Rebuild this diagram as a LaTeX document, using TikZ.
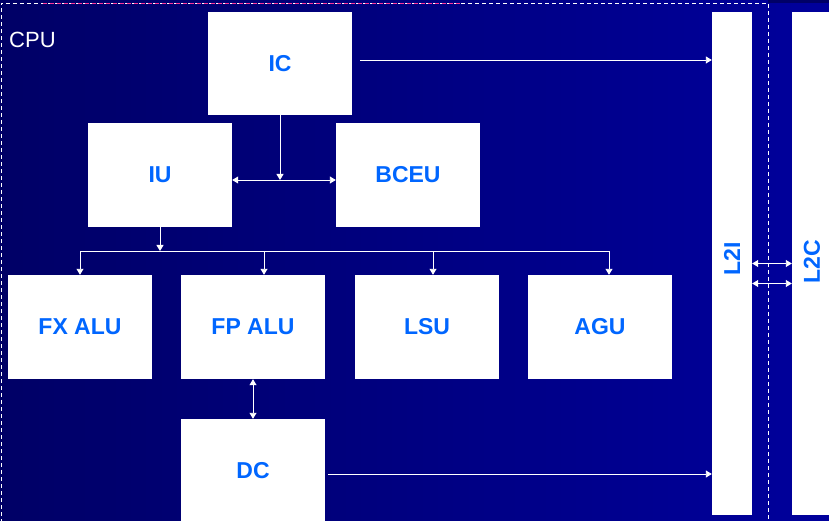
\documentclass[tikz,border=0pt]{standalone}
\usepackage{fontspec}
\setmainfont{Liberation Sans}
\usetikzlibrary{arrows.meta}
\definecolor{bgleft}{RGB}{0,0,102}
\definecolor{bgright}{RGB}{0,0,156}
\definecolor{txtblue}{RGB}{0,102,255}
\definecolor{pinkline}{RGB}{255,51,153}
\tikzset{
  blk/.style={fill=white, draw=none, inner sep=0pt, minimum width=144pt, minimum height=104pt,
    text=txtblue, font=\fontsize{23}{23}\selectfont\bfseries},
  tall/.style={fill=white, draw=none, inner sep=0pt, minimum width=40pt, minimum height=503pt,
    text=txtblue, font=\fontsize{23}{23}\selectfont\bfseries},
  conn/.style={draw=white, line width=0.9pt},
  arr/.style={conn, -{Triangle[width=7pt,length=6pt]}},
  dbl/.style={conn, {Triangle[width=7pt,length=6pt]}-{Triangle[width=7pt,length=6pt]}},
  cpuframe/.style={draw=white, line width=0.8pt, dash pattern=on 4pt off 3pt}
}
\begin{document}
\begin{tikzpicture}[x=1pt,y=-1pt]
\useasboundingbox (0,0) rectangle (829,521);
\shade[left color=bgleft, right color=bgright] (0,0) rectangle (829,521);
\fill[bgleft] (768,0) rectangle (829,3);
% CPU frame
\draw[cpuframe] (1,530) -- (1,3) -- (768,3) -- (768,530);
\draw[draw=pinkline, line width=0.8pt, dash pattern=on 4pt off 3pt] (43,3) -- (460,3);
\node[anchor=west, text=white, font=\fontsize{22}{22}\selectfont, inner sep=0pt] (cpu) at (9,40) {CPU};
% blocks
\node[blk, minimum height=103pt] (IC) at (280,63.5) {IC};
\node[blk] (IU) at (160,175) {IU};
\node[blk] (BCEU) at (408,175) {BCEU};
\node[blk] (FX) at (80,327) {FX ALU};
\node[blk] (FP) at (253,327) {FP ALU};
\node[blk] (LSU) at (427,327) {LSU};
\node[blk] (AGU) at (600,327) {AGU};
\node[blk, minimum height=104pt] (DC) at (253,471) {DC};
\node[tall] (L2I) at (732,263.5) {};
\node[tall] (L2C) at (812,263.5) {};
\node[rotate=90, text=txtblue, font=\fontsize{23}{23}\selectfont\bfseries, inner sep=0pt] (L2Itxt) at (732,259) {L2I};
\node[rotate=90, text=txtblue, font=\fontsize{23}{23}\selectfont\bfseries, inner sep=0pt] (L2Ctxt) at (812,262) {L2C};
% coordinates
\coordinate (icjoin) at (280,180);
\coordinate (icout) at (360,60);
\coordinate (dcout) at (328,474);
\coordinate (busL) at (80,251);
\coordinate (busR) at (609,251);
\coordinate (busIU) at (160,251);
% connectors
\draw[arr] (IC.south) -- (icjoin);
\draw[dbl] ([yshift=-5pt]IU.east) -- ([yshift=-5pt]BCEU.west);
\draw[arr] (icout) -- (L2I.west |- icout);
\draw[arr] (IU.south) -- (busIU);
\draw[conn] (busL) -- (busR);
\draw[arr] (busL) -- (FX.north);
\draw[arr] (busL -| 264,0) -- ([xshift=11pt]FP.north);
\draw[arr] (busL -| 433,0) -- ([xshift=6pt]LSU.north);
\draw[arr] (busR) -- ([xshift=9pt]AGU.north);
\draw[dbl] (FP.south) -- (DC.north);
\draw[arr] (dcout) -- (L2I.west |- dcout);
\draw[dbl] (L2I.east) -- (L2C.west);
\draw[dbl] ([yshift=-20pt]L2I.east) -- ([yshift=-20pt]L2C.west);
\end{tikzpicture}
\end{document}
